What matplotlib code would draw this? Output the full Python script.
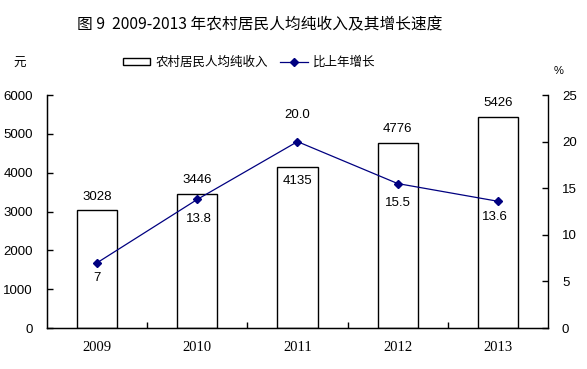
import matplotlib.pyplot as plt
from matplotlib.ticker import FixedLocator, NullFormatter

plt.rcParams['font.family'] = ['Liberation Sans', 'Noto Sans CJK SC', 'DejaVu Sans']

years = ['2009', '2010', '2011', '2012', '2013']
income = [3028, 3446, 4135, 4776, 5426]
growth = [7, 13.8, 20.0, 15.5, 13.6]
growth_labels = ['7', '13.8', '20.0', '15.5', '13.6']

# label offsets in points (dx, dy)
income_off = [(0, 10), (0, 10), (0, -10), (0, 10), (0, 10)]
growth_off = [(0, -11), (1, -14), (0, 19), (0, -14), (-2, -11)]

fig = plt.figure(figsize=(5.87, 3.69), dpi=100)
ax = fig.add_axes([0.080, 0.111, 0.8536, 0.6315])
ax2 = ax.twinx()

x = list(range(len(years)))
bars = ax.bar(x, income, width=0.4, color='white', edgecolor='black', linewidth=1,
              label='农村居民人均纯收入')
line, = ax2.plot(x, growth, color='#000080', linewidth=0.9, marker='D', markersize=4,
                 label='比上年增长')

ax.set_xlim(-0.5, 4.5)
ax.set_ylim(0, 6000)
ax2.set_ylim(0, 25)
ax.set_yticks(range(0, 6001, 1000))
ax2.set_yticks(range(0, 26, 5))

ax.xaxis.set_major_locator(FixedLocator([0.5, 1.5, 2.5, 3.5]))
ax.xaxis.set_major_formatter(NullFormatter())
ax.xaxis.set_minor_locator(FixedLocator(x))
ax.set_xticklabels(years, minor=True)
ax.tick_params(axis='x', which='major', direction='in', length=4, width=1)
ax.tick_params(axis='x', which='minor', length=0, pad=9, labelsize=10.5)
for t in ax.get_xticklabels(minor=True):
    t.set_family(['Liberation Serif', 'DejaVu Serif'])

ax.tick_params(axis='y', direction='in', length=4, width=1, labelsize=9.5, pad=10)
ax2.tick_params(axis='y', direction='in', length=4, width=1, labelsize=9.5, pad=10)

for a in (ax, ax2):
    a.spines['top'].set_visible(False)
ax.spines['right'].set_visible(False)
for s in ('left', 'bottom'):
    ax.spines[s].set_linewidth(1)
ax2.spines['right'].set_linewidth(1)

for xi, v, off in zip(x, income, income_off):
    ax.annotate(str(v), (xi, v), xytext=off, textcoords='offset points',
                ha='center', va='center', fontsize=9.5)
for xi, v, lab, off in zip(x, growth, growth_labels, growth_off):
    ax2.annotate(lab, (xi, v), xytext=off, textcoords='offset points',
                 ha='center', va='center', fontsize=9.5)

fig.text(0.443, 0.932, '图 9  2009-2013 年农村居民人均纯收入及其增长速度', ha='center', va='center',
         fontsize=11.3, family=['Noto Sans CJK SC', 'DejaVu Sans'])
fig.text(0.034, 0.828, '元', ha='center', va='center', fontsize=9,
         family=['Noto Sans CJK SC', 'DejaVu Sans'])
fig.text(0.951, 0.808, '%', ha='center', va='center', fontsize=8)

leg = fig.legend([bars, line], ['农村居民人均纯收入', '比上年增长'], loc='center',
                 bbox_to_anchor=(0.424, 0.83), ncol=2, frameon=False,
                 handlelength=2.2, handleheight=0.5, columnspacing=1.0, handletextpad=0.4,
                 prop={'family': ['Noto Sans CJK SC', 'DejaVu Sans'], 'size': 9})

fig.savefig('out.png', dpi=100)
